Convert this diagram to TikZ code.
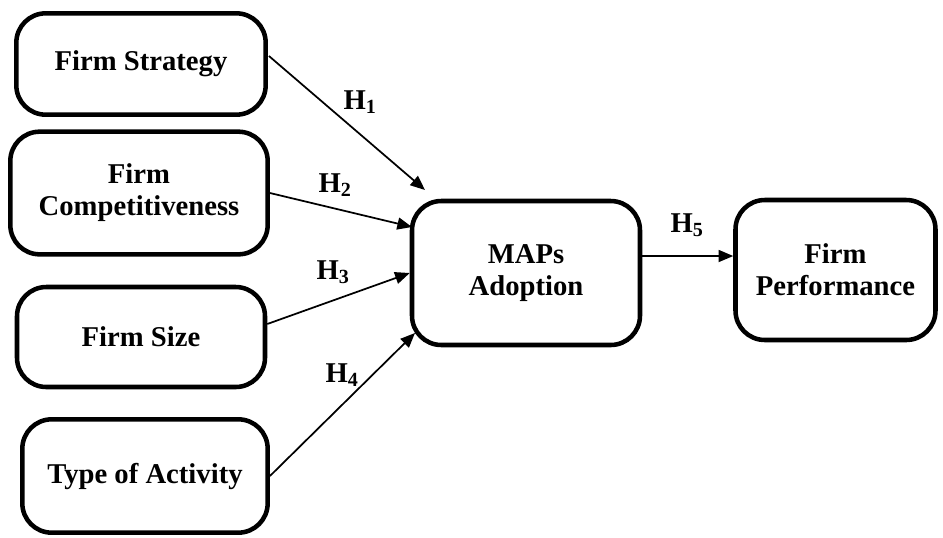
\documentclass[tikz,border=0pt]{standalone}
\usepackage{fontspec}
\setmainfont{Liberation Serif}
\usetikzlibrary{arrows.meta,calc}
\tikzset{
  box/.style={draw=black, line width=3.4pt, rounded corners=22pt, fill=white, align=center,
    font=\fontsize{21.5}{24}\selectfont\bfseries, inner sep=0pt},
  link/.style={line width=1.3pt, -{Triangle[length=11pt,width=9pt]}},
  hlab/.style={font=\fontsize{21.5}{24}\selectfont\bfseries, inner sep=0pt}
}
\begin{document}
\begin{tikzpicture}[x=0.75pt,y=-0.75pt]
\useasboundingbox (0,0) rectangle (943,537);
\node[box, minimum width=187pt, minimum height=76pt] (fs) at (141,64) {Firm Strategy};
\node[box, minimum width=193pt, minimum height=92pt] (fc) at (139,193) {Firm\\Competitiveness};
\node[box, minimum width=186pt, minimum height=75pt] (fz) at (141,337) {Firm Size};
\node[box, minimum width=184pt, minimum height=85pt] (ta) at (145,476) {Type of Activity};
\node[box, minimum width=171pt, minimum height=108pt] (map) at (526,273) {MAPs\\Adoption};
\node[box, minimum width=150pt, minimum height=105pt] (fp) at (835.5,270) {Firm\\Performance};
\coordinate (e1) at (425,190);
\coordinate (e2) at (412,227);
\coordinate (e4) at (415,333);
\draw[link] ($(fs.east)+(1,-8)$) -- (e1);
\draw[link] (fc.east) -- (e2);
\draw[link] ($(fz.east)+(0,-13)$) -- (map.west);
\draw[link] (ta.east) -- (e4);
\draw[link] ($(map.east)+(0,-17)$) -- ($(fp.west)+(0,-14)$);
\node[hlab] (h1) at (360,102) {H\textsubscript{1}};
\node[hlab] (h2) at (335,185) {H\textsubscript{2}};
\node[hlab] (h3) at (333,272) {H\textsubscript{3}};
\node[hlab] (h4) at (342,375) {H\textsubscript{4}};
\node[hlab] (h5) at (687,225) {H\textsubscript{5}};
\end{tikzpicture}
\end{document}
